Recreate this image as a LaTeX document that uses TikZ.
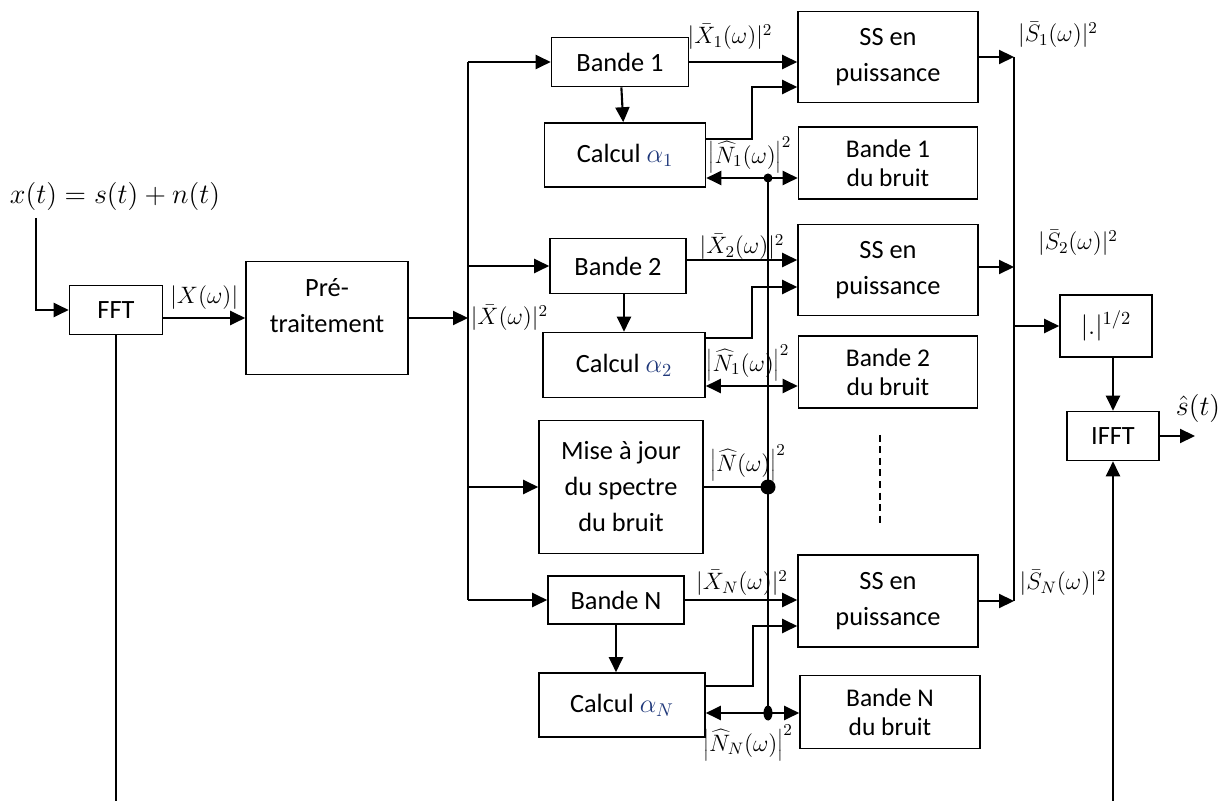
\RequirePackage{fix-cm}
\documentclass[tikz,border=0pt]{standalone}
\usepackage[no-math]{fontspec}
\setmainfont{Carlito}
\usepackage{xcolor}
\usepackage{tikz}
\usetikzlibrary{arrows.meta,calc,positioning}
\definecolor{alphablue}{RGB}{31,56,122}
\tikzset{
  blk/.style 2 args={draw,line width=0.9pt,minimum width=#1*0.2mm,minimum height=#2*0.2mm,
    inner sep=0pt,align=center,font=\fontsize{15}{20.5}\selectfont},
  nblk/.style 2 args={blk={#1}{#2},font=\fontsize{14.5}{16.5}\selectfont},
  arr/.style={line width=1.2pt,-{Triangle[length=3mm,width=2.8mm]}},
  biarr/.style={line width=1.2pt,{Triangle[length=3mm,width=2.8mm]}-{Triangle[length=3mm,width=2.8mm]}},
  wire/.style={line width=1.2pt},
  lbl/.style={inner sep=0pt,font=\fontsize{13.5}{15}\selectfont},
}
\begin{document}
\begin{tikzpicture}[x=0.2mm,y=-0.2mm]
\useasboundingbox (0,0) rectangle (1228,801);
% input and pre-processing
\node[inner sep=0pt,font=\fontsize{16}{18}\selectfont] (xt) at (115,196) {$x(t)=s(t)+n(t)$};
\coordinate (in) at (36,218);
\node[blk={93}{49}] (fft) at (116,310) {FFT};
\node[blk={162}{113},text depth=5mm] (pre) at (327,318) {Pré-\\traitement};
\coordinate (fftout) at (116,801);
\draw[arr] (in) |- (fft.west);
\draw[wire] (fft.south) -- (fftout);
\draw[arr] (fft.east |- pre.west) -- node[lbl,above=4pt] {$|X(\omega)|$} (pre.west);
% bands
\node[blk={137}{49}] (b1) at (620,62) {Bande 1};
\node[blk={161}{64}] (c1) at (625,155) {Calcul $\textcolor{alphablue}{\alpha_1}$};
\node[blk={180}{91}] (ss1) at (888,57) {SS en\\puissance};
\node[nblk={179}{72}] (n1) at (888,163) {Bande 1\\du bruit};
\node[blk={136}{55}] (b2) at (618,266) {Bande 2};
\node[blk={162}{65}] (c2) at (624,365) {Calcul $\textcolor{alphablue}{\alpha_2}$};
\node[blk={180}{91}] (ss2) at (888,270) {SS en\\puissance};
\node[nblk={179}{72}] (n2) at (888,372) {Bande 2\\du bruit};
\node[blk={164}{133}] (maj) at (621,487) {Mise à jour\\du spectre\\du bruit};
\node[blk={136}{48}] (bN) at (616,600) {Bande N};
\node[blk={166}{64}] (cN) at (622,705) {Calcul $\textcolor{alphablue}{\alpha_N}$};
\node[blk={180}{92}] (ssN) at (888,601) {SS en\\puissance};
\node[nblk={180}{73}] (nN) at (890,712) {Bande N\\du bruit};
% input bus
\coordinate (bus) at (468,62);
\draw[wire] (bus) -- (bus |- bN.west);
\draw[arr] (pre.east) -- (pre.east -| bus) node[lbl,right=1pt] {$|\bar{X}(\omega)|^2$};
\draw[arr] (bus) -- (b1.west);
\draw[arr] (bus |- b2.west) -- (b2.west);
\draw[arr] (bus |- maj.west) -- (maj.west);
\draw[arr] (bus |- bN.west) -- (bN.west);
\draw[arr] (b1) -- (c1);
\draw[arr] (b2.south -| c2.north) -- (c2.north);
\draw[arr] (bN) -- (bN |- cN.north);
% band signals to spectral subtraction
\draw[arr] (b1.east) -- (ss1.west |- b1.east);
\draw[arr] ($(b2.east)+(0,-6)$) -- (ss2.west |- {$(b2.east)+(0,-6)$});
\draw[arr] (bN.east) -- (ssN.west |- bN.east);
\draw[arr] ($(c1.north east)+(0,17)$) -| (752,87) -- (ss1.west |- 0,87);
\draw[arr] ($(c2.north east)+(0,6)$) -| (752,287) -- (ss2.west |- 0,287);
\draw[arr] ($(cN.north east)+(0,14)$) -| (753,626) -- (ssN.west |- 0,626);
\node[lbl] at (730,37) {$|\bar{X}_1(\omega)|^2$};
\node[lbl] at (742,247) {$|\bar{X}_2(\omega)|^2$};
\node[lbl] at (742,583) {$|\bar{X}_N(\omega)|^2$};
% noise estimate
\coordinate (d1) at (768,178);
\coordinate (d2) at (768,386);
\coordinate (dM) at (768,487);
\coordinate (dN) at (768,713);
\draw[wire] (d1) -- (dN);
\draw[wire] (maj.east) -- (dM);
\draw[arr] (d1) -- (c1.east |- d1);
\draw[arr] (d1) -- (n1.west |- d1);
\draw[biarr] (c2.east |- d2) -- (n2.west |- d2);
\draw[arr] (dN) -- (cN.east |- dN);
\draw[arr] (dN) -- (nN.west |- dN);
\fill (d1) circle[radius=0.9mm];
\fill (dM) circle[radius=1.5mm];
\fill (dN) ellipse[x radius=0.9mm,y radius=1.5mm];
\node[lbl] at (750,155) {$\left|\widehat{N}_1(\omega)\right|^2$};
\node[lbl] at (748,363) {$\left|\widehat{N}_1(\omega)\right|^2$};
\node[lbl] at (748,463) {$\left|\widehat{N}(\omega)\right|^2$};
\node[lbl] at (748,743) {$\left|\widehat{N}_N(\omega)\right|^2$};
\draw[line width=1pt,dash pattern=on 1.4mm off 0.9mm] (880,435) -- (880,527);
% output
\coordinate (obus) at (1014,57);
\node[blk={92}{62}] (root) at (1106,326) {$|.|^{1/2}$};
\node[blk={92}{49}] (ifft) at (1113,436) {IFFT};
\coordinate (sout) at (1195,436);
\coordinate (ifin) at (1113,801);
\draw[wire] (obus) -- (obus |- ssN.east);
\draw[arr] (ss1.east) -- (ss1.east -| obus);
\draw[arr] ($(ss2.east)+(0,-3)$) -- (obus |- {$(ss2.east)+(0,-3)$});
\draw[arr] (ssN.east) -- (ssN.east -| obus);
\draw[arr] (obus |- root.west) -- (root.west);
\draw[arr] (root.south -| ifft.north) -- (ifft.north);
\draw[arr] (ifft.east) -- (sout);
\draw[arr] (ifin) -- (ifft.south);
\node[lbl] at (1058,35) {$|\bar{S}_1(\omega)|^2$};
\node[lbl] at (1078,243) {$|\bar{S}_2(\omega)|^2$};
\node[lbl] at (1063,583) {$|\bar{S}_N(\omega)|^2$};
\node[inner sep=0pt,font=\fontsize{16}{18}\selectfont] at (1198,408) {$\hat{s}(t)$};
\end{tikzpicture}
\end{document}
